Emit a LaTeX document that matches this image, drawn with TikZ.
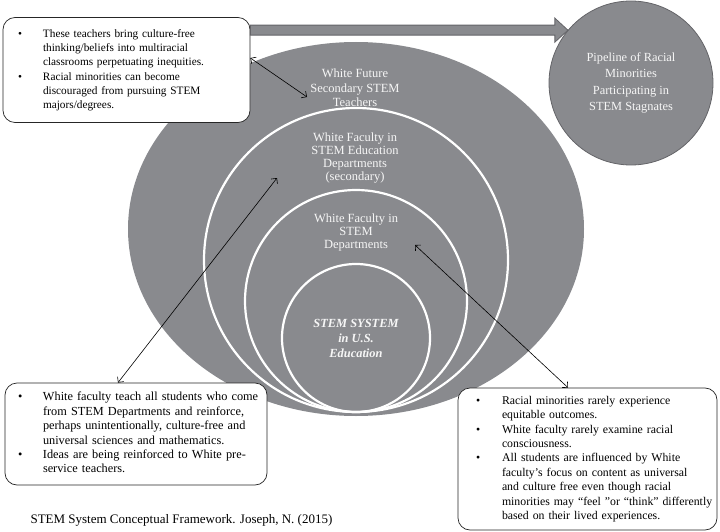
\documentclass[tikz,border=0pt]{standalone}
\usepackage{fontspec}
\setmainfont{Liberation Serif}
\usetikzlibrary{shapes.geometric, arrows.meta, calc}
\definecolor{sysgray}{RGB}{137,138,142}
\definecolor{rimgray}{RGB}{100,100,104}
\definecolor{lbltext}{RGB}{246,246,246}

\begin{document}
\begin{tikzpicture}[
    x=1pt, y=-1pt,
    note/.style={rectangle, draw=black!85, fill=white, rounded corners=12pt, line width=0.7pt, align=left, font=\fontsize{12.3}{14.4}\selectfont},
    ring/.style={circle, draw=white, line width=2.2pt, inner sep=0pt},
    lbl/.style={text=lbltext, align=center, font=\fontsize{12.5}{13}\selectfont},
    link/.style={{Straight Barb[length=4pt]}-{Straight Barb[length=4pt]}, line width=0.6pt},
    fat/.style={fill=sysgray, draw=rimgray, line width=0.8pt},
]
\useasboundingbox (0,0) rectangle (720,532);

% System
\node[ellipse, fill=sysgray, minimum width=456pt, minimum height=374pt] (sys) at (356,229) {};
\node[ring, minimum size=304pt] (educ) at (356,260) {};
\node[ring, minimum size=222pt] (dept) at (356,301) {};
\node[ring, minimum size=148pt, text=lbltext, align=center, font=\fontsize{12.4}{15}\selectfont\bfseries\itshape] (core) at (356,338) {STEM SYSTEM\\in U.S.\\Education};
\node[lbl, font=\fontsize{12.5}{14.5}\selectfont] (futlbl) at (355,88) {White Future\\Secondary STEM\\Teachers};
\node[lbl] (educlbl) at (355,158) {White Faculty in\\STEM Education\\Departments\\(secondary)};
\node[lbl] (deptlbl) at (356,232) {White Faculty in\\STEM\\Departments};

% Pipeline
\node[circle, fat, minimum size=164pt, text=lbltext, align=center, font=\fontsize{12.4}{16.5}\selectfont] (pipe) at (631,83) {Pipeline of Racial\\Minorities\\Participating in\\STEM Stagnates};

% Notes
\node[note, minimum height=105pt, text width=217pt, inner xsep=15pt, font=\fontsize{11.3}{14}\selectfont] (tlnote) at (126.5,70) {\noindent\begin{tabular}{@{}p{25pt}@{}l@{}}
\textbullet & These teachers bring culture-free\\
 & thinking/beliefs into multiracial\\
 & classrooms perpetuating inequities.\\[1.5pt]
\textbullet & Racial minorities can become\\
 & discouraged from pursuing STEM\\
 & majors/degrees.
\end{tabular}};
\node[note, minimum height=102pt, text width=236pt, inner xsep=13pt] (blnote) at (136,434) {\noindent\begin{tabular}{@{}p{25pt}@{}l@{}}
\textbullet & White faculty teach all students who come\\
 & from STEM Departments and reinforce,\\
 & perhaps unintentionally, culture-free and\\
 & universal sciences and mathematics.\\
\textbullet & Ideas are being reinforced to White pre-\\
 & service teachers.
\end{tabular}};
\node[note, minimum height=142pt, text width=223pt, inner xsep=18pt, font=\fontsize{11.8}{14.4}\selectfont] (brnote) at (587.5,459) {\noindent\begin{tabular}{@{}p{26pt}@{}l@{}}
\textbullet & Racial minorities rarely experience\\
 & equitable outcomes.\\
\textbullet & White faculty rarely examine racial\\
 & consciousness.\\
\textbullet & All students are influenced by White\\
 & faculty’s focus on content as universal\\
 & and culture free even though racial\\
 & minorities may “feel ”or “think” differently\\
 & based on their lived experiences.
\end{tabular}};

% Caption
\node[anchor=west, font=\fontsize{13}{15}\selectfont] (caption) at (27,520) {STEM System Conceptual Framework. Joseph, N. (2015)};

% Flow to pipeline
\draw[fat] let \p1=([yshift=-13pt]tlnote.north east), \p2=(pipe.140) in
    (\x1,\y1+5pt) -- (\x2-13pt,\y1+5pt) -- (\x2-13pt,\y1+12pt) -- (\x2,\y1)
    -- (\x2-13pt,\y1-12pt) -- (\x2-13pt,\y1-5pt) -- (\x1,\y1-5pt) -- cycle;

% Links
\coordinate (futpt) at (307,97);
\coordinate (educpt) at (277,178);
\coordinate (deptpt) at (415,245);
\draw[link] ([yshift=12pt]tlnote.east) -- (futpt);
\draw[link] ([xshift=-18pt]blnote.north) -- (educpt);
\draw[link] (deptpt) -- ([xshift=-19.5pt]brnote.north);
\end{tikzpicture}
\end{document}
